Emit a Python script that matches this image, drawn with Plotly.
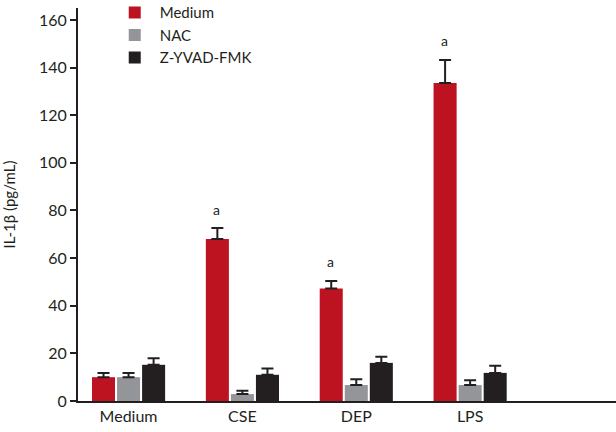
import plotly.graph_objects as go

groups = ['Medium', 'CSE', 'DEP', 'LPS']
series = ['Medium', 'NAC', 'Z-YVAD-FMK']
colors = ['#BD1220', '#939598', '#231F20']

medium_vals = [10, 68, 47.2, 133.5]
medium_err = [1.8, 4.6, 3.2, 9.7]
nac_vals = [10, 2.9, 6.7, 6.7]
nac_err = [1.8, 1.4, 2.4, 2.0]
zyvad_vals = [15.2, 11, 16, 11.8]
zyvad_err = [2.7, 2.6, 2.6, 3.0]

sig_groups = ['CSE', 'DEP', 'LPS']
sig_labels = ['a', 'a', 'a']

fig = go.Figure()
for name, vals, errs, col in zip(series, [medium_vals, nac_vals, zyvad_vals],
                                 [medium_err, nac_err, zyvad_err], colors):
    fig.add_trace(go.Bar(
        x=groups, y=vals, name=name,
        marker=dict(color=col, line=dict(width=0)),
        error_y=dict(type='data', array=errs, arrayminus=[0] * len(errs),
                     symmetric=False, color='#231F20', thickness=2, width=6),
    ))

# 'a' marks above the red bars
for g, lab in zip(sig_groups, sig_labels):
    i = groups.index(g)
    fig.add_annotation(x=i, xshift=-26, y=medium_vals[i] + medium_err[i],
                       yshift=19, text=lab, showarrow=False,
                       font=dict(size=14, color='#231F20'))

fig.update_layout(
    width=616, height=432,
    margin=dict(l=78, r=0, t=8, b=31, autoexpand=False),
    paper_bgcolor='white', plot_bgcolor='white',
    font=dict(family='Lato', size=16, color='#231F20'),
    barmode='group', bargap=0.34, bargroupgap=0.08,
    showlegend=True,
    legend=dict(x=0.059, y=1.03, xanchor='left', yanchor='top',
                font=dict(size=15), tracegroupgap=0, itemwidth=40,
                bgcolor='rgba(0,0,0,0)'),
    xaxis=dict(range=[-0.444, 4.281], showline=True, linecolor='#231F20',
               linewidth=2, ticks='', showgrid=False, zeroline=False,
               automargin=False, tickfont=dict(size=16)),
    yaxis=dict(range=[0, 165], tickvals=[0, 20, 40, 60, 80, 100, 120, 140, 160],
               showline=True, linecolor='#231F20', linewidth=2, ticks='outside',
               ticklen=6, tickwidth=2, tickcolor='#231F20', showgrid=False,
               zeroline=False, automargin=False, tickfont=dict(size=16),
               title=dict(text='IL-1β (pg/mL)', standoff=34,
                          font=dict(size=15))),
)

# drop the default body margin and scrollbars so the figure fills the window
fig.write_html('out.html', config={'displayModeBar': False},
               post_script="document.body.style.margin='0';"
                           "document.body.style.overflow='hidden';")
